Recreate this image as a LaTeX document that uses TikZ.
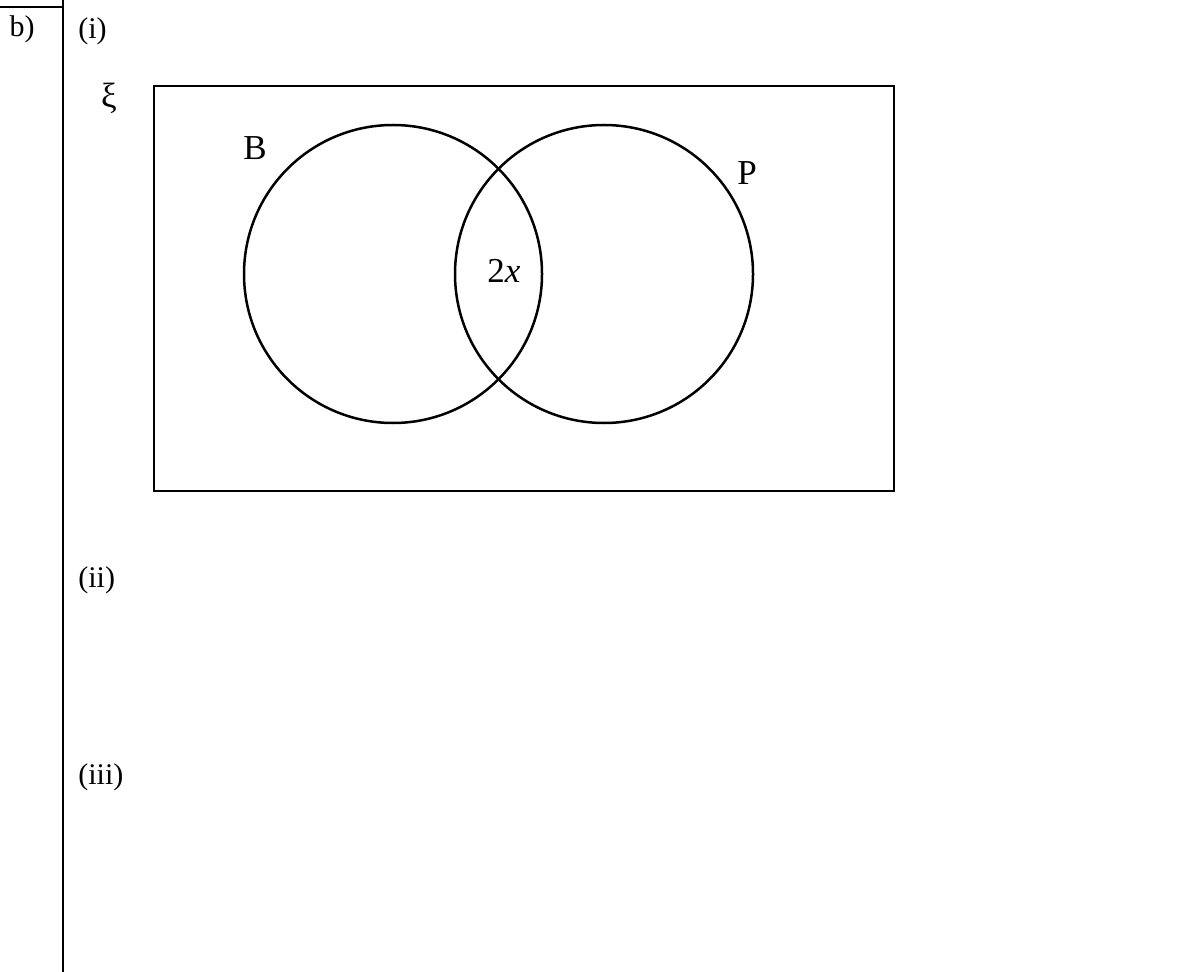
\documentclass[tikz,border=0pt]{standalone}
\usepackage{fontspec}
\setmainfont{Liberation Serif}
\usetikzlibrary{positioning}

\begin{document}
\begin{tikzpicture}[
    x=0.5pt, y=-0.5pt,
    rule/.style={line width=1.4pt},
    setcirc/.style={circle, draw=black, line width=1.25pt, inner sep=0pt, minimum size=149pt},
    part/.style={font=\fontsize{15}{18}\selectfont, inner sep=0pt},
    lbl/.style={font=\fontsize{17.5}{21}\selectfont, inner sep=0pt},
]
\useasboundingbox (0,0) rectangle (1197,972);

% table rules
\coordinate (tl) at (0,7);
\coordinate (tj) at (63,7);
\coordinate (bj) at (63,972);
\draw [rule] (tl) -- (tj);
\draw [rule] (tj |- 0,0) -- (bj);

% question labels
\node [part] (qb) at (22,29) {b)};
\node [part, anchor=west] (qi) at (78,31) {(i)};
\node [part, anchor=west] (qii) at (78,580) {(ii)};
\node [part, anchor=west] (qiii) at (78,777) {(iii)};

% universal set
\coordinate (ul) at (154,86);
\coordinate (lr) at (894,491);
\draw [line width=1.4pt] (ul) rectangle (lr);
\node [lbl] (xi) at (109,98) {ξ};

% the two sets
\node [setcirc] (setB) at (393,274) {};
\node [setcirc] (setP) at (604,274) {};
\node [lbl] (nameB) at (255,148) {B};
\node [lbl] (nameP) at (747,173) {P};
\node [lbl] (both) at (504,271) {2\textit{x}};

\end{tikzpicture}
\end{document}
